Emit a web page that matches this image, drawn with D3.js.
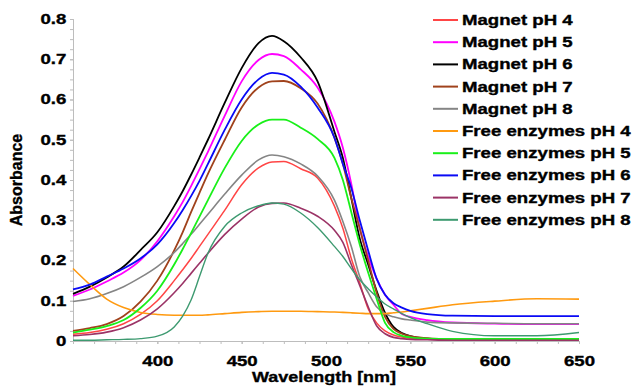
<!DOCTYPE html>
<html>
<head>
<meta charset="utf-8">
<script src="https://cdn.jsdelivr.net/npm/d3@7"></script>
<style>
  body { margin: 0; background: #fff; }
  svg { font-family: "Liberation Sans", Arial, sans-serif; font-weight: bold; }
  svg text { stroke: #000; stroke-width: 0.35px; }
</style>
</head>
<body>
<div id="chart"></div>
<script>
// wavelengths (nm) shared by every spectrum
const wavelengths = [350, 360, 370, 380, 390, 400, 410, 415, 420, 425, 430, 440, 450, 460, 468, 475, 485, 495, 505, 510, 515, 520, 525, 530, 535, 540, 545, 550, 560, 575, 600, 625, 650];

// absorbance
const magnetPH4 = [0.017, 0.021, 0.029, 0.043, 0.066, 0.100, 0.150, 0.177, 0.205, 0.235, 0.265, 0.325, 0.388, 0.430, 0.445, 0.446, 0.428, 0.405, 0.335, 0.280, 0.205, 0.145, 0.080, 0.045, 0.025, 0.015, 0.010, 0.007, 0.005, 0.004, 0.003, 0.003, 0.003];
const magnetPH5 = [0.112, 0.128, 0.148, 0.170, 0.201, 0.248, 0.310, 0.345, 0.385, 0.427, 0.470, 0.560, 0.645, 0.698, 0.713, 0.708, 0.675, 0.630, 0.545, 0.480, 0.390, 0.280, 0.210, 0.155, 0.115, 0.090, 0.067, 0.060, 0.052, 0.046, 0.043, 0.042, 0.042];
const magnetPH6 = [0.117, 0.135, 0.158, 0.185, 0.226, 0.270, 0.335, 0.372, 0.413, 0.456, 0.500, 0.592, 0.678, 0.740, 0.758, 0.745, 0.705, 0.645, 0.520, 0.455, 0.355, 0.255, 0.190, 0.125, 0.070, 0.035, 0.020, 0.012, 0.006, 0.004, 0.003, 0.003, 0.003];
const magnetPH7 = [0.025, 0.032, 0.042, 0.062, 0.098, 0.150, 0.225, 0.270, 0.320, 0.368, 0.415, 0.500, 0.580, 0.630, 0.645, 0.646, 0.628, 0.590, 0.505, 0.440, 0.355, 0.280, 0.200, 0.120, 0.060, 0.030, 0.018, 0.012, 0.007, 0.004, 0.003, 0.003, 0.003];
const magnetPH8 = [0.098, 0.105, 0.118, 0.135, 0.158, 0.185, 0.220, 0.242, 0.265, 0.290, 0.315, 0.365, 0.412, 0.450, 0.462, 0.458, 0.440, 0.410, 0.350, 0.297, 0.235, 0.160, 0.120, 0.085, 0.068, 0.060, 0.055, 0.052, 0.047, 0.045, 0.044, 0.043, 0.043];
const freePH4 = [0.180, 0.140, 0.104, 0.083, 0.071, 0.066, 0.064, 0.064, 0.064, 0.064, 0.065, 0.068, 0.071, 0.073, 0.074, 0.074, 0.074, 0.073, 0.072, 0.071, 0.070, 0.069, 0.068, 0.068, 0.068, 0.070, 0.072, 0.075, 0.081, 0.090, 0.099, 0.105, 0.104];
const freePH5 = [0.021, 0.028, 0.037, 0.052, 0.082, 0.125, 0.190, 0.228, 0.268, 0.309, 0.350, 0.430, 0.497, 0.538, 0.550, 0.550, 0.530, 0.502, 0.455, 0.400, 0.320, 0.240, 0.170, 0.105, 0.045, 0.022, 0.013, 0.009, 0.006, 0.005, 0.005, 0.005, 0.005];
const freePH6 = [0.128, 0.140, 0.160, 0.180, 0.205, 0.240, 0.293, 0.325, 0.360, 0.398, 0.440, 0.525, 0.600, 0.650, 0.666, 0.662, 0.632, 0.580, 0.505, 0.440, 0.380, 0.300, 0.225, 0.155, 0.115, 0.094, 0.083, 0.075, 0.067, 0.063, 0.062, 0.062, 0.062];
const freePH7 = [0.013, 0.016, 0.022, 0.033, 0.052, 0.080, 0.120, 0.143, 0.168, 0.193, 0.218, 0.265, 0.303, 0.333, 0.342, 0.343, 0.330, 0.310, 0.275, 0.245, 0.190, 0.138, 0.085, 0.038, 0.018, 0.009, 0.006, 0.004, 0.003, 0.002, 0.002, 0.002, 0.002];
const freePH8 = [0.002, 0.002, 0.003, 0.004, 0.006, 0.012, 0.035, 0.062, 0.102, 0.160, 0.218, 0.285, 0.318, 0.336, 0.343, 0.340, 0.318, 0.282, 0.235, 0.210, 0.180, 0.152, 0.130, 0.110, 0.092, 0.080, 0.068, 0.058, 0.043, 0.024, 0.013, 0.013, 0.021];

const seriesNames = ["Magnet pH 4", "Magnet pH 5", "Magnet pH 6", "Magnet pH 7", "Magnet pH 8",
    "Free enzymes pH 4", "Free enzymes pH 5", "Free enzymes pH 6", "Free enzymes pH 7", "Free enzymes pH 8"];
const seriesValues = [magnetPH4, magnetPH5, magnetPH6, magnetPH7, magnetPH8, freePH4, freePH5, freePH6, freePH7, freePH8];
const seriesColors = ["#FF4545", "#FF00FF", "#000000", "#A0421C", "#858585", "#FF9A10", "#19F019", "#0A0AF5", "#9B3366", "#3D9A70"];
const seriesWidths = [1.5, 1.8, 1.8, 1.8, 1.6, 1.6, 1.8, 1.8, 1.6, 1.4];

const xMajorTicks = [400, 450, 500, 550, 600, 650];
const yMajorTicks = [0, 0.1, 0.2, 0.3, 0.4, 0.5, 0.6, 0.7, 0.8];

// mått
const svgWidth = 633;
const svgHeight = 386;
const plotLeft = 73, plotRight = 579, plotTop = 19, plotBottom = 341;
const stretch = "scale(1.33,1)"; // texten i originalet är utdragen på bredden

const svg = d3.select("#chart").append("svg")
    .attr("width", svgWidth)
    .attr("height", svgHeight);

const x = d3.scaleLinear().domain([350, 650]).range([plotLeft, plotRight]);
const y = d3.scaleLinear().domain([0, 0.8]).range([plotBottom, plotTop]);

// axlar: små ticks + stora ticks med etiketter
const axisColor = "#BDBDBD";

const xMinor = svg.append("g")
    .attr("transform", `translate(0,${plotBottom})`)
    .call(d3.axisBottom(x).tickValues(d3.range(350, 650.1, 12.5)).tickSize(3).tickFormat(""));
const xAxis = svg.append("g")
    .attr("transform", `translate(0,${plotBottom})`)
    .call(d3.axisBottom(x).tickValues(xMajorTicks).tickSize(3).tickPadding(12));

const yMinor = svg.append("g")
    .attr("transform", `translate(${plotLeft},0)`)
    .call(d3.axisLeft(y).tickValues(d3.range(0, 0.8001, 0.025)).tickSize(3).tickFormat(""));
const yAxis = svg.append("g")
    .attr("transform", `translate(${plotLeft},0)`)
    .call(d3.axisLeft(y).tickValues(yMajorTicks).tickSize(3).tickPadding(2)
        .tickFormat(d => d === 0 ? "0" : d3.format(".1f")(d)));

[xMinor, xAxis, yMinor, yAxis].forEach(g => {
    g.selectAll("path, line").attr("stroke", axisColor);
    g.selectAll("text")
        .attr("fill", "#000")
        .style("font-size", "14px")
        .style("font-weight", "bold")
        .attr("transform", stretch);
});

// axeltitlar
svg.append("text")
    .attr("transform", `translate(22,180) rotate(-90)`)
    .attr("text-anchor", "middle")
    .style("font-size", "16px")
    .text("Absorbance");

svg.append("text")
    .attr("transform", `translate(324,382) scale(1.2,1)`)
    .attr("text-anchor", "middle")
    .style("font-size", "15px")
    .text("Wavelength [nm]");

// linjerna
const line = d3.line()
    .x(d => x(d[0]))
    .y(d => y(d[1]))
    .curve(d3.curveMonotoneX);

seriesValues.forEach((values, i) => {
    svg.append("path")
        .datum(wavelengths.map((w, j) => [w, values[j]]))
        .attr("fill", "none")
        .attr("stroke", seriesColors[i])
        .attr("stroke-width", seriesWidths[i])
        .attr("stroke-linejoin", "round")
        .attr("d", line);
});

// legend
const legend = svg.append("g").attr("transform", "translate(433,20)");
seriesNames.forEach((name, i) => {
    const row = legend.append("g").attr("transform", `translate(0,${i * 22.2})`);
    row.append("line")
        .attr("x1", 0).attr("x2", 25)
        .attr("y1", 0).attr("y2", 0)
        .attr("stroke", seriesColors[i])
        .attr("stroke-width", 2);
    row.append("text")
        .attr("transform", `translate(29,5) ${stretch}`)
        .style("font-size", "14px")
        .text(name);
});
</script>
</body>
</html>
